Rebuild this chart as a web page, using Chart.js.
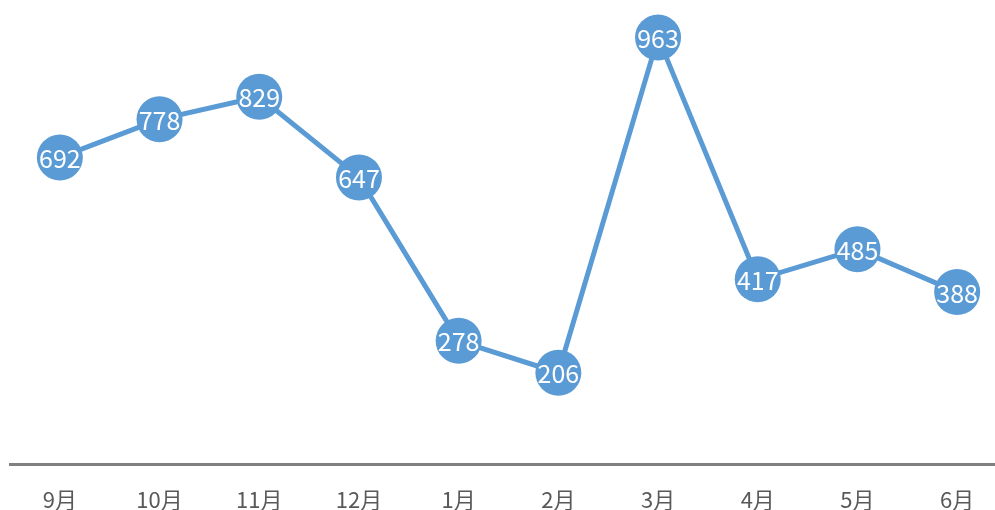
<!DOCTYPE html>
<html>
<head>
<meta charset="utf-8">
<script src="https://cdn.jsdelivr.net/npm/chart.js@4/dist/chart.umd.min.js"></script>
<style>
html,body{margin:0;padding:0;background:#fff;overflow:hidden;width:995px;height:510px;}
#wrap{position:relative;width:1007px;height:510px;}
</style>
</head>
<body>
<div id="wrap"><canvas id="c" width="1007" height="510"></canvas></div>
<script>
const months = ['9月','10月','11月','12月','1月','2月','3月','4月','5月','6月'];
const values = [692, 778, 829, 647, 278, 206, 963, 417, 485, 388];
const lineColor = '#5b9bd5';

const labelPlugin = {
  id: 'pointLabels',
  afterDatasetsDraw(chart) {
    const ctx = chart.ctx;
    const meta = chart.getDatasetMeta(0);
    ctx.save();
    ctx.fillStyle = '#ffffff';
    ctx.font = '25px "Noto Sans CJK SC", "Noto Sans", sans-serif';
    ctx.textAlign = 'center';
    ctx.textBaseline = 'middle';
    meta.data.forEach((pt, i) => {
      ctx.fillText(String(values[i]), pt.x, pt.y + 1);
    });
    ctx.restore();
  }
};

new Chart(document.getElementById('c'), {
  type: 'line',
  data: {
    labels: months,
    datasets: [{
      data: values,
      borderColor: lineColor,
      backgroundColor: lineColor,
      borderWidth: 5,
      pointRadius: 23,
      pointHoverRadius: 23,
      pointBorderWidth: 0,
      pointBackgroundColor: lineColor,
      tension: 0,
      clip: false
    }]
  },
  options: {
    responsive: false,
    animation: false,
    events: [],
    layout: { autoPadding: false, padding: { left: 10, right: 0, top: 21, bottom: -26 } },
    plugins: { legend: { display: false }, tooltip: { enabled: false } },
    scales: {
      x: {
        offset: true,
        grid: { display: false, drawTicks: false },
        border: { display: true, color: '#7f7f7f', width: 3 },
        ticks: {
          color: '#595959',
          font: { size: 22, lineHeight: 1, family: '"Noto Sans CJK SC", sans-serif' },
          padding: 25,
          maxRotation: 0,
          autoSkip: false
        }
      },
      y: {
        display: false,
        min: 0,
        max: 1000
      }
    }
  },
  plugins: [labelPlugin]
});
</script>
</body>
</html>
